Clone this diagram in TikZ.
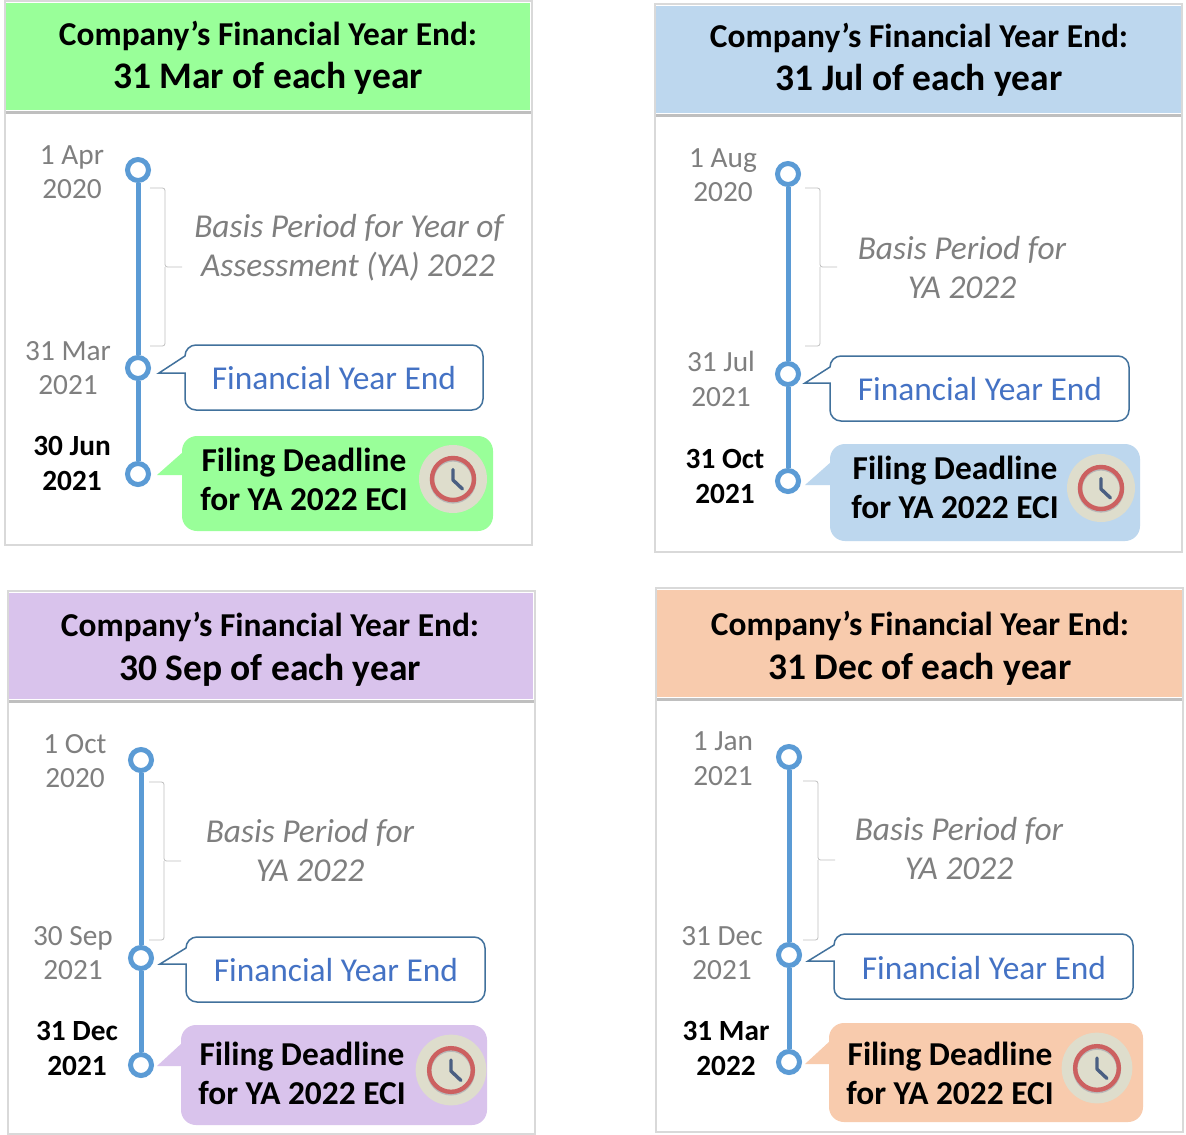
\documentclass[tikz,border=0pt]{standalone}
\usepackage{fontspec}
\setmainfont{Carlito}
\definecolor{frameg}{HTML}{D9D9D9}
\definecolor{ruleg}{HTML}{BFBFBF}
\definecolor{textg}{HTML}{7F7F7F}
\definecolor{linkb}{HTML}{4472C4}
\definecolor{lineb}{HTML}{5B9BD5}
\definecolor{edgeb}{HTML}{41719C}
\definecolor{pgreen}{HTML}{99FF99}
\definecolor{pblue}{HTML}{BDD7EE}
\definecolor{ppurple}{HTML}{D9C3EC}
\definecolor{porange}{HTML}{F8CBAD}
\definecolor{clockbg}{HTML}{DEDDCC}
\definecolor{clockring}{HTML}{CC6060}
\definecolor{clockhand}{HTML}{4A5F82}
\tikzset{
  x=1pt,y=-1pt,
  txt/.style={inner sep=0pt,align=center,text height=6.8pt,text depth=1.7pt},
  headA/.style={txt,yshift=-7.5pt,font=\fontsize{33.4}{36}\selectfont\bfseries},
  headB/.style={txt,yshift=-9pt,font=\fontsize{37.5}{40}\selectfont\bfseries},
  greydate/.style={txt,yshift=-6.5pt,text=textg,font=\fontsize{29.3}{32}\selectfont},
  blackdate/.style={txt,yshift=-6.5pt,text=black,font=\fontsize{29.3}{32}\selectfont\bfseries},
  basis/.style={txt,yshift=-9pt,text=textg,font=\fontsize{33.4}{36}\selectfont\itshape},
  fye/.style={txt,yshift=-9pt,text=linkb,font=\fontsize{33.4}{36}\selectfont},
  filing/.style={txt,yshift=-8pt,text=black,font=\fontsize{33.4}{36}\selectfont\bfseries},
  dot/.style={circle,draw=lineb,fill=white,line width=5pt,minimum size=21pt,inner sep=0pt},
  tline/.style={draw=lineb,line width=5pt},
  brace/.style={draw=ruleg,line width=0.8pt,rounded corners=2.5pt},
}
% id, left, top, right, bottom, header bottom, colour, header right edge
\newcommand{\panelhead}[8]{%
  \node[draw=frameg,line width=1.6pt,minimum width={(#4-#2)*1pt},minimum height={(#5-#3)*1pt},inner sep=0pt] (#1frame) at ({(#2+#4)/2},{(#3+#5)/2}) {};
  \fill[#7] (#2+1,#3+1.5) rectangle (#8,#6);
  \draw[ruleg,line width=2.8pt] (#2+1,#6+2.6) -- (#4-1,#6+2.6);
}
% id, x, y1, y2, y3, brace x, brace top, brace bottom, brace tip y
\newcommand{\paneltime}[9]{%
  \node[dot] (#1d1) at (#2,#3) {};
  \node[dot] (#1d2) at (#2,#4) {};
  \node[dot] (#1d3) at (#2,#5) {};
  \draw[tline] (#1d1) -- (#1d2);
  \draw[tline] (#1d2) -- (#1d3);
  \coordinate (#1bt) at (#6-15,#7);
  \coordinate (#1bb) at (#6-15,#8);
  \coordinate (#1btip) at (#6+17,#9);
  \draw[brace] (#1bt) -| (#6,#9) -- (#1btip);
  \draw[brace] (#1bb) -| (#6,#9);
}
% id, L, T, R, B, tipx, tipy
\newcommand{\fyebox}[7]{%
  \coordinate (#1ft) at (#6,#7);
  \draw[edgeb,fill=white,line width=1.5pt,line join=miter]
    (#2,#3+11) to[out=90,in=180] (#2+11,#3) -- (#4-11,#3) to[out=0,in=90] (#4,#3+11)
    -- (#4,#5-11) to[out=-90,in=0] (#4-11,#5) -- (#2+11,#5) to[out=180,in=-90] (#2,#5-11)
    -- (#2,#7) -- (#1ft) -- (#2,#3+11) -- cycle;
}
% id, L, T, R, B, tipx, tipy, colour
\newcommand{\filingbox}[8]{%
  \coordinate (#1ct) at (#6,#7);
  \fill[#8,rounded corners=15pt] (#2,#3) rectangle (#4,#5);
  \fill[#8] (#1ct) -- (#2+1,#7-23) -- (#2+1,#7) -- cycle;
}
% id, x, y, scale
\newcommand{\clockicon}[4]{%
  \begin{scope}[shift={(#2,#3)},scale=#4]
  \node[circle,fill=clockbg,minimum size={68pt*#4},inner sep=0pt] (#1clock) at (0,0) {};
  \draw[black!28,line width=4.4pt] (0,1.4) circle[radius=21];
  \draw[clockring,line width=4.4pt] (0,0) circle[radius=21];
  \draw[clockhand,line width=3.4pt,line cap=round,line join=round] (0,-9.5) -- (0,1) -- (9.5,10);
  \end{scope}
}
\begin{document}
\begin{tikzpicture}
\useasboundingbox (0,0) rectangle (1186,1135);
\fill[white] (0,0) rectangle (1186,1135);
% --- panel A
\panelhead{a}{5}{1}{532}{545}{110}{pgreen}{530}
\node[headA] (ah1) at (268,35) {Company’s Financial Year End:};
\node[headB] (ah2) at (268,77) {31 Mar of each year};
\paneltime{a}{138}{170}{368}{474}{165}{188}{346}{267}
\node[greydate] (ad1) at (72,155) {1 Apr};
\node[greydate] (ad2) at (72,189) {2020};
\node[greydate] (ad3) at (68,351) {31 Mar};
\node[greydate] (ad4) at (68,385) {2021};
\node[blackdate] (ad5) at (72,446) {30 Jun};
\node[blackdate] (ad6) at (72,481) {2021};
\node[basis] (ab1) at (349,226) {Basis Period for Year of};
\node[basis] (ab2) at (348,265) {Assessment (YA) 2022};
\fyebox{a}{185}{345}{483}{410}{159}{373}
\node[fye] (af) at (334,378) {Financial Year End};
\filingbox{a}{182}{436}{493}{531}{157}{475}{pgreen}
\node[filing] (afa) at (304,461) {Filing Deadline};
\node[filing] (afb) at (304,500) {for YA 2022 ECI};
\clockicon{a}{453}{479}{1}
% --- panel B
\panelhead{b}{655}{4}{1182}{552}{113}{pblue}{1181}
\node[headA] (bh1) at (919,37) {Company’s Financial Year End:};
\node[headB] (bh2) at (919,79) {31 Jul of each year};
\paneltime{b}{788}{174}{374}{481}{820}{188}{346}{267}
\node[greydate] (bd1) at (723,158) {1 Aug};
\node[greydate] (bd2) at (723,192) {2020};
\node[greydate] (bd3) at (721,362) {31 Jul};
\node[greydate] (bd4) at (721,397) {2021};
\node[blackdate] (bd5) at (725,459) {31 Oct};
\node[blackdate] (bd6) at (725,494) {2021};
\node[basis] (bb1) at (962,248) {Basis Period for};
\node[basis] (bb2) at (962,287) {YA 2022};
\fyebox{b}{830}{356}{1129}{421}{805}{383}
\node[fye] (bf) at (980,389) {Financial Year End};
\filingbox{b}{830}{444}{1140}{541}{805}{485}{pblue}
\node[filing] (bfa) at (955,469) {Filing Deadline};
\node[filing] (bfb) at (955,508) {for YA 2022 ECI};
\clockicon{b}{1101}{488}{1}
% --- panel C
\panelhead{c}{8}{591}{535}{1134}{699}{ppurple}{533}
\node[headA] (ch1) at (270,626) {Company’s Financial Year End:};
\node[headB] (ch2) at (270,669) {30 Sep of each year};
\paneltime{c}{141}{760}{958}{1065}{164}{782}{940}{861}
\node[greydate] (cd1) at (75,744) {1 Oct};
\node[greydate] (cd2) at (75,778) {2020};
\node[greydate] (cd3) at (73,936) {30 Sep};
\node[greydate] (cd4) at (73,970) {2021};
\node[blackdate] (cd5) at (77,1031) {31 Dec};
\node[blackdate] (cd6) at (77,1066) {2021};
\node[basis] (cb1) at (310,831) {Basis Period for};
\node[basis] (cb2) at (310,870) {YA 2022};
\fyebox{c}{186}{937}{485}{1002}{160}{964}
\node[fye] (cf) at (336,970) {Financial Year End};
\filingbox{c}{181}{1025}{487}{1125}{157}{1066}{ppurple}
\node[filing] (cfa) at (302,1055) {Filing Deadline};
\node[filing] (cfb) at (302,1094) {for YA 2022 ECI};
\clockicon{c}{451}{1070}{1.04}
% --- panel D
\panelhead{d}{656}{588}{1183}{1132}{697}{porange}{1182}
\node[headA] (dh1) at (920,625) {Company’s Financial Year End:};
\node[headB] (dh2) at (920,668) {31 Dec of each year};
\paneltime{d}{789}{757}{955}{1062}{818}{781}{940}{860}
\node[greydate] (dd1) at (723,741) {1 Jan};
\node[greydate] (dd2) at (723,776) {2021};
\node[greydate] (dd3) at (722,936) {31 Dec};
\node[greydate] (dd4) at (722,970) {2021};
\node[blackdate] (dd5) at (726,1031) {31 Mar};
\node[blackdate] (dd6) at (726,1066) {2022};
\node[basis] (db1) at (959,829) {Basis Period for};
\node[basis] (db2) at (959,868) {YA 2022};
\fyebox{d}{834}{934}{1133}{999}{808}{961}
\node[fye] (df) at (984,968) {Financial Year End};
\filingbox{d}{829}{1023}{1143}{1122}{805}{1064}{porange}
\node[filing] (dfa) at (950,1055) {Filing Deadline};
\node[filing] (dfb) at (950,1094) {for YA 2022 ECI};
\clockicon{d}{1097}{1068}{1.04}
\end{tikzpicture}
\end{document}
